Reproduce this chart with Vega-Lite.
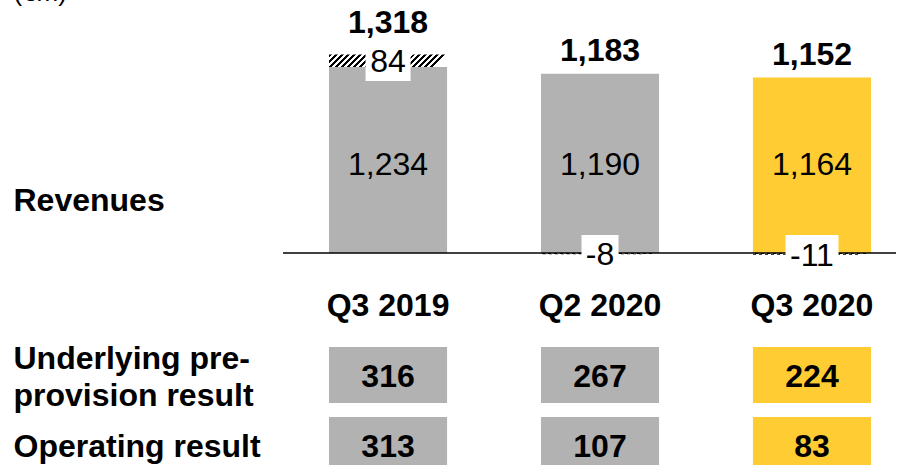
{
  "$schema": "https://vega.github.io/schema/vega-lite/v6.json",
  "padding": {"left": 13, "top": -21, "right": 0, "bottom": 0},
  "spacing": 19,
  "resolve": {"scale": {"x": "independent", "y": "independent", "color": "independent"}},
  "config": {"view": {"stroke": null}, "font": "Liberation Sans"},
  "datasets": {
    "rev": [
      {"q": "Q3 2019", "seg": "main", "value": 1234, "label": "1,234"},
      {"q": "Q3 2019", "seg": "adj", "value": 84, "label": "84"},
      {"q": "Q2 2020", "seg": "main", "value": 1190, "label": "1,190"},
      {"q": "Q2 2020", "seg": "adj", "value": -8, "label": "-8"},
      {"q": "Q3 2020", "seg": "main", "value": 1164, "label": "1,164"},
      {"q": "Q3 2020", "seg": "adj", "value": -11, "label": "-11"}
    ],
    "tot": [
      {"q": "Q3 2019", "total": 1318, "label": "1,318"},
      {"q": "Q2 2020", "total": 1183, "label": "1,183"},
      {"q": "Q3 2020", "total": 1152, "label": "1,152"}
    ],
    "tbl": [
      {"q": "Q3 2019", "row": "Underlying pre-provision result", "value": "316"},
      {"q": "Q2 2020", "row": "Underlying pre-provision result", "value": "267"},
      {"q": "Q3 2020", "row": "Underlying pre-provision result", "value": "224"},
      {"q": "Q3 2019", "row": "Operating result", "value": "313"},
      {"q": "Q2 2020", "row": "Operating result", "value": "107"},
      {"q": "Q3 2020", "row": "Operating result", "value": "83"}
    ]
  },
  "vconcat": [
    {
      "width": 613,
      "height": 275,
      "data": {"name": "rev"},
      "layer": [
        {
          "transform": [
            {"stack": "value", "groupby": ["q"], "sort": [{"field": "seg", "order": "descending"}], "as": ["v0", "v1"]},
            {"filter": "datum.seg == 'main'"}
          ],
          "mark": {"type": "bar"},
          "encoding": {
            "x": {"field": "q", "type": "nominal", "sort": ["Q3 2019", "Q2 2020", "Q3 2020"],
                  "scale": {"domain": ["Q3 2019", "Q2 2020", "Q3 2020"], "paddingInner": 0.443, "paddingOuter": 0.1675, "align": 0.648},
                  "axis": {"title": null, "domain": false, "ticks": false, "labelFont": "Liberation Sans", "labelFontSize": 32, "labelFontWeight": "bold", "labelColor": "#000", "labelPadding": 30, "labelBaseline": "middle", "labelAngle": 0}},
            "y": {"field": "v1", "type": "quantitative",
                  "scale": {"domain": [-146, 1679], "nice": false, "zero": false},
                  "axis": {"title": "Revenues", "titleAngle": 0, "titleAlign": "left", "titleBaseline": "middle", "titleX": -270, "titleY": 200,
                           "titleFont": "Liberation Sans", "titleFontSize": 32, "titleFontWeight": "bold", "titleColor": "#000",
                           "values": [1679], "labelExpr": "'(€m)'", "labelAlign": "left", "labelBaseline": "alphabetic", "labelPadding": 270,
                           "labelFont": "Liberation Sans", "labelFontSize": 26, "labelColor": "#000",
                           "ticks": false, "domain": false, "grid": false}},
            "y2": {"field": "v0"},
            "color": {"field": "q", "type": "nominal", "scale": {"domain": ["Q3 2019", "Q2 2020", "Q3 2020"], "range": ["#B2B2B2", "#B2B2B2", "#FFCC33"]}, "legend": null}
          }
        },
        {
          "transform": [
            {"stack": "value", "groupby": ["q"], "sort": [{"field": "seg", "order": "descending"}], "as": ["v0", "v1"]},
            {"filter": "datum.seg == 'adj'"}
          ],
          "mark": {"type": "bar", "fill": {"gradient": "linear", "x1": 0, "y1": 0, "x2": 1, "y2": 0.107, "stops": [
            {"offset": 0, "color": "#000"}, {"offset": 0.025, "color": "#000"}, {"offset": 0.025, "color": "#fff"}, {"offset": 0.05, "color": "#fff"},
            {"offset": 0.05, "color": "#000"}, {"offset": 0.075, "color": "#000"}, {"offset": 0.075, "color": "#fff"}, {"offset": 0.1, "color": "#fff"},
            {"offset": 0.1, "color": "#000"}, {"offset": 0.125, "color": "#000"}, {"offset": 0.125, "color": "#fff"}, {"offset": 0.15, "color": "#fff"},
            {"offset": 0.15, "color": "#000"}, {"offset": 0.175, "color": "#000"}, {"offset": 0.175, "color": "#fff"}, {"offset": 0.2, "color": "#fff"},
            {"offset": 0.2, "color": "#000"}, {"offset": 0.225, "color": "#000"}, {"offset": 0.225, "color": "#fff"}, {"offset": 0.25, "color": "#fff"},
            {"offset": 0.25, "color": "#000"}, {"offset": 0.275, "color": "#000"}, {"offset": 0.275, "color": "#fff"}, {"offset": 0.3, "color": "#fff"},
            {"offset": 0.3, "color": "#000"}, {"offset": 0.325, "color": "#000"}, {"offset": 0.325, "color": "#fff"}, {"offset": 0.35, "color": "#fff"},
            {"offset": 0.35, "color": "#000"}, {"offset": 0.375, "color": "#000"}, {"offset": 0.375, "color": "#fff"}, {"offset": 0.4, "color": "#fff"},
            {"offset": 0.4, "color": "#000"}, {"offset": 0.425, "color": "#000"}, {"offset": 0.425, "color": "#fff"}, {"offset": 0.45, "color": "#fff"},
            {"offset": 0.45, "color": "#000"}, {"offset": 0.475, "color": "#000"}, {"offset": 0.475, "color": "#fff"}, {"offset": 0.5, "color": "#fff"},
            {"offset": 0.5, "color": "#000"}, {"offset": 0.525, "color": "#000"}, {"offset": 0.525, "color": "#fff"}, {"offset": 0.55, "color": "#fff"},
            {"offset": 0.55, "color": "#000"}, {"offset": 0.575, "color": "#000"}, {"offset": 0.575, "color": "#fff"}, {"offset": 0.6, "color": "#fff"},
            {"offset": 0.6, "color": "#000"}, {"offset": 0.625, "color": "#000"}, {"offset": 0.625, "color": "#fff"}, {"offset": 0.65, "color": "#fff"},
            {"offset": 0.65, "color": "#000"}, {"offset": 0.675, "color": "#000"}, {"offset": 0.675, "color": "#fff"}, {"offset": 0.7, "color": "#fff"},
            {"offset": 0.7, "color": "#000"}, {"offset": 0.725, "color": "#000"}, {"offset": 0.725, "color": "#fff"}, {"offset": 0.75, "color": "#fff"},
            {"offset": 0.75, "color": "#000"}, {"offset": 0.775, "color": "#000"}, {"offset": 0.775, "color": "#fff"}, {"offset": 0.8, "color": "#fff"},
            {"offset": 0.8, "color": "#000"}, {"offset": 0.825, "color": "#000"}, {"offset": 0.825, "color": "#fff"}, {"offset": 0.85, "color": "#fff"},
            {"offset": 0.85, "color": "#000"}, {"offset": 0.875, "color": "#000"}, {"offset": 0.875, "color": "#fff"}, {"offset": 0.9, "color": "#fff"},
            {"offset": 0.9, "color": "#000"}, {"offset": 0.925, "color": "#000"}, {"offset": 0.925, "color": "#fff"}, {"offset": 0.95, "color": "#fff"},
            {"offset": 0.95, "color": "#000"}, {"offset": 0.975, "color": "#000"}, {"offset": 0.975, "color": "#fff"}, {"offset": 1, "color": "#fff"}
          ]}},
          "encoding": {
            "x": {"field": "q", "type": "nominal", "sort": ["Q3 2019", "Q2 2020", "Q3 2020"]},
            "y": {"field": "v1", "type": "quantitative"},
            "y2": {"field": "v0"}
          }
        },
        {
          "data": {"values": [{}]},
          "mark": {"type": "rule", "color": "#000", "strokeWidth": 1.6},
          "encoding": {"y": {"datum": 0, "type": "quantitative"}}
        },
        {
          "transform": [
            {"stack": "value", "groupby": ["q"], "sort": [{"field": "seg", "order": "descending"}], "as": ["v0", "v1"]},
            {"filter": "datum.seg == 'adj' && datum.value > 0"}
          ],
          "mark": {"type": "point", "shape": "M-1,-0.1H1V1.18H-1Z", "filled": true, "fill": "#fff", "opacity": 1, "size": 2025, "strokeWidth": 0},
          "encoding": {
            "x": {"field": "q", "type": "nominal", "sort": ["Q3 2019", "Q2 2020", "Q3 2020"]},
            "y": {"field": "v1", "type": "quantitative"}
          }
        },
        {
          "transform": [
            {"stack": "value", "groupby": ["q"], "sort": [{"field": "seg", "order": "descending"}], "as": ["v0", "v1"]},
            {"filter": "datum.label == '-8'"}
          ],
          "mark": {"type": "point", "shape": "M-1,-1.04H1V0.45H-1Z", "filled": true, "fill": "#fff", "opacity": 1, "size": 1369, "strokeWidth": 0},
          "encoding": {
            "x": {"field": "q", "type": "nominal", "sort": ["Q3 2019", "Q2 2020", "Q3 2020"]},
            "y": {"field": "v1", "type": "quantitative"}
          }
        },
        {
          "transform": [
            {"stack": "value", "groupby": ["q"], "sort": [{"field": "seg", "order": "descending"}], "as": ["v0", "v1"]},
            {"filter": "datum.label == '-11'"}
          ],
          "mark": {"type": "point", "shape": "M-1,-0.74H1V0.3H-1Z", "filled": true, "fill": "#fff", "opacity": 1, "size": 2809, "strokeWidth": 0},
          "encoding": {
            "x": {"field": "q", "type": "nominal", "sort": ["Q3 2019", "Q2 2020", "Q3 2020"]},
            "y": {"field": "v1", "type": "quantitative"}
          }
        },
        {
          "transform": [
            {"stack": "value", "groupby": ["q"], "sort": [{"field": "seg", "order": "descending"}], "as": ["v0", "v1"]},
            {"filter": "datum.seg == 'main'"}
          ],
          "mark": {"type": "text", "font": "Liberation Sans", "fontSize": 32, "color": "#000", "baseline": "middle", "align": "center", "dy": -88},
          "encoding": {
            "x": {"field": "q", "type": "nominal", "sort": ["Q3 2019", "Q2 2020", "Q3 2020"]},
            "y": {"field": "v0", "type": "quantitative"},
            "text": {"field": "label"}
          }
        },
        {
          "transform": [
            {"stack": "value", "groupby": ["q"], "sort": [{"field": "seg", "order": "descending"}], "as": ["v0", "v1"]},
            {"filter": "datum.seg == 'adj' && datum.value > 0"}
          ],
          "mark": {"type": "text", "font": "Liberation Sans", "fontSize": 32, "color": "#000", "baseline": "middle", "align": "center", "dy": 8},
          "encoding": {
            "x": {"field": "q", "type": "nominal", "sort": ["Q3 2019", "Q2 2020", "Q3 2020"]},
            "y": {"field": "v1", "type": "quantitative"},
            "text": {"field": "label"}
          }
        },
        {
          "transform": [
            {"stack": "value", "groupby": ["q"], "sort": [{"field": "seg", "order": "descending"}], "as": ["v0", "v1"]},
            {"filter": "datum.seg == 'adj' && datum.value < 0"}
          ],
          "mark": {"type": "text", "font": "Liberation Sans", "fontSize": 32, "color": "#000", "baseline": "middle", "align": "center", "dy": 1},
          "encoding": {
            "x": {"field": "q", "type": "nominal", "sort": ["Q3 2019", "Q2 2020", "Q3 2020"]},
            "y": {"field": "v1", "type": "quantitative"},
            "text": {"field": "label"}
          }
        },
        {
          "data": {"name": "tot"},
          "transform": [{"filter": "datum.q == 'Q3 2019'"}],
          "mark": {"type": "text", "font": "Liberation Sans", "fontSize": 32, "fontWeight": "bold", "color": "#000", "baseline": "middle", "align": "center", "dy": -31},
          "encoding": {
            "x": {"field": "q", "type": "nominal", "sort": ["Q3 2019", "Q2 2020", "Q3 2020"]},
            "y": {"field": "total", "type": "quantitative"},
            "text": {"field": "label"}
          }
        },
        {
          "data": {"name": "tot"},
          "transform": [{"filter": "datum.q != 'Q3 2019'"}],
          "mark": {"type": "text", "font": "Liberation Sans", "fontSize": 32, "fontWeight": "bold", "color": "#000", "baseline": "middle", "align": "center", "dy": -24},
          "encoding": {
            "x": {"field": "q", "type": "nominal", "sort": ["Q3 2019", "Q2 2020", "Q3 2020"]},
            "y": {"field": "total", "type": "quantitative"},
            "text": {"field": "label"}
          }
        }
      ]
    },
    {
      "width": 613,
      "height": 140,
      "data": {"name": "tbl"},
      "encoding": {
        "x": {"field": "q", "type": "nominal", "sort": ["Q3 2019", "Q2 2020", "Q3 2020"],
              "scale": {"domain": ["Q3 2019", "Q2 2020", "Q3 2020"], "paddingInner": 0.443, "paddingOuter": 0.1675, "align": 0.648},
              "axis": null},
        "y": {"field": "row", "type": "nominal", "sort": ["Underlying pre-provision result", "Operating result"],
              "scale": {"domain": ["Underlying pre-provision result", "Operating result"], "paddingInner": 0.2, "paddingOuter": 0.1},
              "axis": {"title": null, "domain": false, "ticks": false, "labelAlign": "left", "labelBaseline": "middle", "labelPadding": 270,
                       "labelFont": "Liberation Sans", "labelFontSize": 32, "labelFontWeight": "bold", "labelColor": "#000",
                       "labelLineHeight": 37, "labelLimit": 0,
                       "labelOffset": {"condition": {"test": "datum.value == 'Underlying pre-provision result'", "value": -16}, "value": 2},
                       "labelExpr": "datum.value == 'Underlying pre-provision result' ? ['Underlying pre-', 'provision result'] : datum.value"}}
      },
      "layer": [
        {
          "mark": {"type": "bar"},
          "encoding": {
            "color": {"field": "q", "type": "nominal", "scale": {"domain": ["Q3 2019", "Q2 2020", "Q3 2020"], "range": ["#B2B2B2", "#B2B2B2", "#FFCC33"]}, "legend": null}
          }
        },
        {
          "mark": {"type": "text", "font": "Liberation Sans", "fontSize": 32, "fontWeight": "bold", "color": "#000", "baseline": "middle", "align": "center", "dy": 2},
          "encoding": {"text": {"field": "value"}}
        }
      ]
    }
  ]
}
